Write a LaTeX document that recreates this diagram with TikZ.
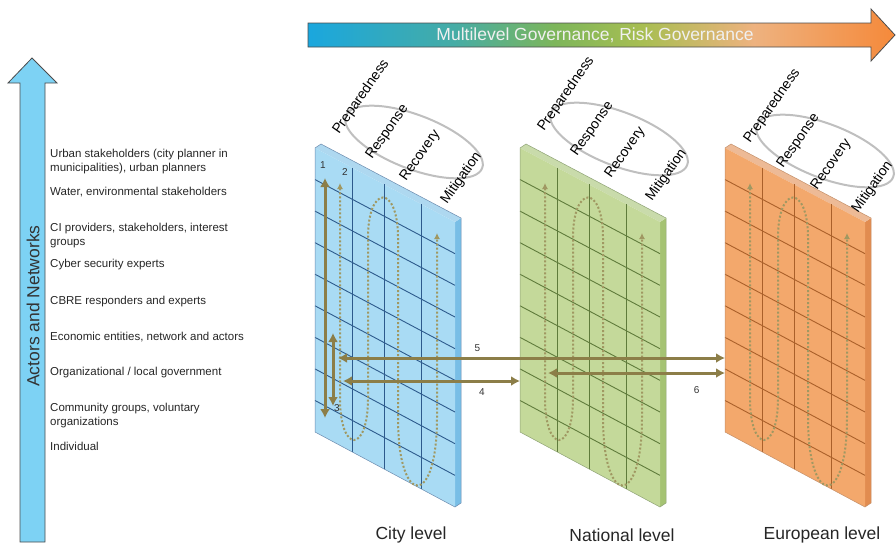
\documentclass[tikz,border=0pt]{standalone}
\usepackage{fontspec}
\setmainfont{Liberation Sans}
\usetikzlibrary{arrows.meta, calc}

\definecolor{CITYfill}{RGB}{169,219,244}
\definecolor{CITYline}{RGB}{45,90,140}
\definecolor{CITYside}{RGB}{120,190,230}
\definecolor{NATfill}{RGB}{196,217,154}
\definecolor{NATline}{RGB}{95,123,59}
\definecolor{NATside}{RGB}{165,195,115}
\definecolor{EURfill}{RGB}{243,168,108}
\definecolor{EURline}{RGB}{170,96,42}
\definecolor{EURside}{RGB}{225,140,80}
\definecolor{LINKolive}{RGB}{140,126,72}
\definecolor{DOTolive}{RGB}{160,152,98}
\definecolor{ACTblue}{RGB}{125,210,244}
\definecolor{GOVblue}{RGB}{26,167,222}
\definecolor{GOVteal}{RGB}{70,172,165}
\definecolor{GOVgreen}{RGB}{125,182,90}
\definecolor{GOVlime}{RGB}{168,190,82}
\definecolor{GOVpeach}{RGB}{238,178,127}
\definecolor{GOVorange}{RGB}{245,137,58}

% stops kept inside 25bp..75bp, the part that is fitted to the path
\pgfdeclarehorizontalshading{govshade}{100bp}{color(0bp)=(GOVblue); color(25bp)=(GOVblue); color(37.5bp)=(GOVteal); color(46bp)=(GOVgreen); color(53.5bp)=(GOVlime); color(63bp)=(GOVpeach); color(75bp)=(GOVorange); color(100bp)=(GOVorange)}

\tikzset{next/.style={<->, >={Latex[length=9pt,width=10pt]}, line width=3pt, draw=LINKolive}}
\tikzset{loopdots/.style={<->, >={Latex[length=6pt,width=6pt]}, draw=DOTolive, line width=2pt, dash pattern=on 2pt off 2pt}}
\tikzset{phase/.style={rotate=55, anchor=base west, inner sep=0pt, font=\fontsize{14}{14}\selectfont}}
\tikzset{stepno/.style={inner sep=0pt, font=\fontsize{10}{10}\selectfont, text=black!80}}
\tikzset{actor/.style={anchor=west, align=left, inner sep=0pt, font=\fontsize{11.5}{14}\selectfont, text=black!85}}
\tikzset{level/.style={inner sep=0pt, font=\fontsize{17.5}{17.5}\selectfont, text=black!85}}
\tikzset{ring/.style={draw=black!25, line width=2pt}}

% one panel: #1 fill, #2 grid lines, #3 side face
\newcommand{\panel}[3]{
  \fill[#3] (140,74) -- (146,70) -- (146,355) -- (140,359) -- cycle;
  \fill[#3!60!white] (0,0) -- (6,-4) -- (146,70) -- (140,74) -- cycle;
  \fill[#1] (0,0) -- (140,74) -- (140,359) -- (0,284) -- cycle;
  \foreach \k in {1,...,8}
    \draw[#2, line width=0.9pt] (0,{31.56*\k}) -- (140,{74+31.67*\k});
  \foreach \c/\t in {37/19.56, 69/36.47, 106/56.03}
    \draw[#2, line width=0.9pt] (\c,\t) -- (\c,\t+284.5);
  \draw[#2!70!white, line width=0.5pt] (0,0) -- (6,-4) -- (146,70) -- (146,355) -- (140,359) -- (0,284) -- cycle;
}
\newcommand{\loops}{
  \draw[loopdots] (25,35) -- (25,250) .. controls (25,306) and (53,306) .. (53,250)
    -- (53,90) .. controls (53,36) and (83,36) .. (83,90)
    -- (83,270) .. controls (83,360) and (122,360) .. (122,270) -- (122,85);
}
% #1 extra shift, #2 name prefix
\newcommand{\phases}[2]{
  \begin{scope}[shift={#1}]
    \draw[ring, rotate around={-21:(99,-6)}] (99,-6) ellipse [x radius=73, y radius=27];
    \node[phase] (#2prep) at (24,-13) {Preparedness};
    \node[phase] (#2resp) at (57,12) {Response};
    \node[phase] (#2reco) at (91,34) {Recovery};
    \node[phase] (#2miti) at (132,57) {Mitigation};
  \end{scope}
}

\begin{document}
\begin{tikzpicture}[x=1pt, y=-1pt]
  \useasboundingbox (0,0) rectangle (896,544);

  % --- governance arrow ---
  \shadedraw[shading=govshade, draw=black!70, line width=0.8pt]
    (308,23) -- (871,23) -- (871,9) -- (895,35) -- (871,61) -- (871,47) -- (308,47) -- cycle;
  \node[inner sep=0pt, font=\fontsize{17.5}{17.5}\selectfont, text=white!94!black] (gov) at (595,35)
    {Multilevel Governance, Risk Governance};

  % --- actors arrow and list ---
  \filldraw[fill=ACTblue, draw=black!70, line width=0.8pt]
    (20,542) -- (20,83) -- (8,83) -- (32,58) -- (57,83) -- (45,83) -- (45,542) -- cycle;
  \node[rotate=90, inner sep=0pt, font=\fontsize{17.5}{17.5}\selectfont, text=black!80] (actors) at (33,306)
    {Actors and Networks};

  \node[actor] (urban) at (50,162) {Urban stakeholders (city planner in\\municipalities), urban planners};
  \node[actor] (water) at (50,192) {Water, environmental stakeholders};
  \node[actor] (ci) at (50,236) {CI providers, stakeholders, interest\\groups};
  \node[actor] (cyber) at (50,265) {Cyber security experts};
  \node[actor] (cbre) at (50,302) {CBRE responders and experts};
  \node[actor] (econ) at (50,337) {Economic entities, network and actors};
  \node[actor] (org) at (50,373) {Organizational / local government};
  \node[actor] (comm) at (50,416) {Community groups, voluntary\\organizations};
  \node[actor] (indiv) at (50,446) {Individual};

  % --- city level ---
  \begin{scope}[shift={(315,148)}]
    \panel{CITYfill}{CITYline}{CITYside}
    \loops
    \coordinate (c1top) at (10,30);
    \coordinate (c1bot) at (10,270);
    \coordinate (c3top) at (18,185);
    \coordinate (c3bot) at (18,258);
    \coordinate (c5) at (23,210);
    \coordinate (c4) at (28,233);
    \draw[next] (c1top) -- (c1bot);
    \draw[next] (c3top) -- (c3bot);
    \node[stepno] (one) at (8,17) {1};
    \node[stepno] (two) at (30,24) {2};
    \node[stepno] (three) at (22,260) {3};
    \phases{(0,0)}{c}
  \end{scope}

  % --- national level ---
  \begin{scope}[shift={(520,148)}]
    \panel{NATfill}{NATline}{NATside}
    \loops
    \coordinate (n4) at (0,233);
    \coordinate (n6) at (28,225);
    \phases{(0,-3)}{n}
  \end{scope}

  % --- european level ---
  \begin{scope}[shift={(725,148)}]
    \panel{EURfill}{EURline}{EURside}
    \loops
    \coordinate (e5) at (0,210);
    \coordinate (e6) at (0,225);
    \phases{(1,9)}{e}
  \end{scope}

  % --- links between levels ---
  \draw[next] (c5) -- node[pos=.36, above=5pt, stepno] (five) {5} (e5);
  \draw[next] (c4) -- node[pos=.785, below=6pt, stepno] (four) {4} (n4);
  \draw[next] (n6) -- node[pos=.84, below=12pt, stepno] (six) {6} (e6);

  \node[level] (city) at (411,535) {City level};
  \node[level] (nat) at (622,535) {National level};
  \node[level] (eur) at (822,535) {European level};
\end{tikzpicture}
\end{document}
